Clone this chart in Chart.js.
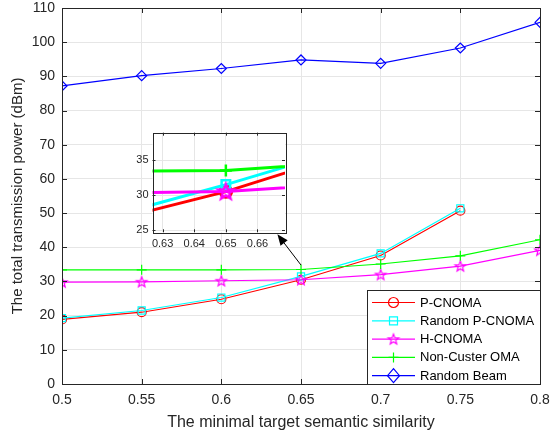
<!DOCTYPE html>
<html>
<head>
<meta charset="utf-8">
<script src="https://cdn.jsdelivr.net/npm/chart.js@4.4.1/dist/chart.umd.min.js"></script>
<style>
html, body { margin: 0; padding: 0; background: #fff; }
#wrap { position: relative; width: 550px; height: 436px; }
#main { position: absolute; left: 0; top: 0; }
#inset { position: absolute; left: 130px; top: 120px; }
</style>
</head>
<body>
<div id="wrap">
  <canvas id="main" width="550" height="436" style="width:550px;height:436px"></canvas>
  <canvas id="inset" width="165" height="135" style="width:165px;height:135px"></canvas>
</div>
<script>
// data
const similarity = [0.5, 0.55, 0.6, 0.65, 0.7, 0.75, 0.8];
const pCnoma = [18.9, 21.0, 24.8, 30.5, 37.6, 50.7, null];
const randomPCnoma = [19.3, 21.5, 25.3, 31.5, 38.2, 51.4, null];
const hCnoma = [29.8, 29.9, 30.2, 30.5, 32.0, 34.5, 39.1];
const nonClusterOma = [33.4, 33.4, 33.4, 33.5, 35.1, 37.5, 42.2];
const randomBeam = [87.2, 90.2, 92.3, 94.8, 93.8, 98.3, 105.8];

const xTicks = [0.5, 0.55, 0.6, 0.65, 0.7, 0.75, 0.8];
const yTicks = [0, 10, 20, 30, 40, 50, 60, 70, 80, 90, 100, 110];
const insetXTicks = [0.63, 0.64, 0.65, 0.66];
const insetYTicks = [25, 30, 35];

const FONT = '"Liberation Sans", Arial, Helvetica, sans-serif';
const TXT = '#262626';

// 5-point star marker (MATLAB 'p')
function makeStar(color, r, lw) {
    const c = document.createElement('canvas');
    const s = Math.ceil(2 * r + 2 * lw + 2);
    c.width = s; c.height = s;
    const g = c.getContext('2d');
    g.strokeStyle = color;
    g.lineWidth = lw;
    g.lineJoin = 'miter';
    g.beginPath();
    for (let i = 0; i < 10; i++) {
        const rr = i % 2 === 0 ? r : r * 0.42;
        const a = -Math.PI / 2 + i * Math.PI / 5;
        const px = s / 2 + rr * Math.cos(a), py = s / 2 + 0.5 + rr * Math.sin(a);
        if (i === 0) g.moveTo(px, py); else g.lineTo(px, py);
    }
    g.closePath();
    g.stroke();
    return c;
}
const starSmall = makeStar('#ff00ff', 5.5, 1.2);
const starBig = makeStar('#ff00ff', 8, 2.5);

const series = [
    { label: 'P-CNOMA', data: pCnoma, color: '#ff0000', marker: 'circle' },
    { label: 'Random P-CNOMA', data: randomPCnoma, color: '#00ffff', marker: 'rect' },
    { label: 'H-CNOMA', data: hCnoma, color: '#ff00ff', marker: 'star' },
    { label: 'Non-Custer OMA', data: nonClusterOma, color: '#00ff00', marker: 'cross' },
    { label: 'Random Beam', data: randomBeam, color: '#0000ff', marker: 'rectRot' }
];

function makeDatasets(big) {
    return series.map((s, i) => ({
        label: s.label,
        data: similarity.map((x, j) => ({ x: x, y: s.data[j] })).filter(p => p.y !== null),
        borderColor: s.color,
        backgroundColor: 'rgba(0,0,0,0)',
        borderWidth: big ? 3 : 1.2,
        pointStyle: s.marker === 'star' ? (big ? starBig : starSmall) : s.marker,
        pointRadius: big ? 6 : (s.marker === 'circle' ? 4.5 : 5),
        pointBorderWidth: big ? 2.5 : 1.2,
        pointBorderColor: s.color,
        pointBackgroundColor: 'rgba(0,0,0,0)',
        tension: 0,
        order: series.length - i
    }));
}

function fmt(v) { return String(Number(v.toFixed(2))); }

function drawMarker(ctx, s, x, y) {
    ctx.save();
    ctx.strokeStyle = s.color;
    ctx.lineWidth = 1.2;
    ctx.beginPath();
    if (s.marker === 'circle') {
        ctx.arc(x, y, 5, 0, Math.PI * 2);
    } else if (s.marker === 'rect') {
        ctx.rect(x - 4, y - 4, 8, 8);
    } else if (s.marker === 'cross') {
        ctx.moveTo(x - 5, y); ctx.lineTo(x + 5, y);
        ctx.moveTo(x, y - 5); ctx.lineTo(x, y + 5);
    } else if (s.marker === 'rectRot') {
        ctx.moveTo(x, y - 7); ctx.lineTo(x + 6, y); ctx.lineTo(x, y + 7); ctx.lineTo(x - 6, y); ctx.closePath();
    }
    ctx.stroke();
    if (s.marker === 'star') {
        ctx.drawImage(starSmall, x - starSmall.width / 2, y - starSmall.height / 2);
    }
    ctx.restore();
}

// no extra room for overflowing tick labels, keep the plot box where it is
function noOverflow(s) {
    s.paddingTop = 0; s.paddingBottom = 0; s.paddingLeft = 0; s.paddingRight = 0;
}

// axes box + inward ticks, like matlab
function boxPlugin(tickLen) {
    return {
        id: 'box',
        afterDraw(chart) {
            const { ctx, chartArea: a, scales } = chart;
            ctx.save();
            ctx.strokeStyle = TXT;
            ctx.lineWidth = 1;
            ctx.beginPath();
            scales.x.ticks.forEach(t => {
                const px = Math.round(scales.x.getPixelForValue(t.value)) + 0.5;
                ctx.moveTo(px, a.bottom); ctx.lineTo(px, a.bottom - tickLen);
                ctx.moveTo(px, a.top); ctx.lineTo(px, a.top + tickLen);
            });
            scales.y.ticks.forEach(t => {
                const py = Math.round(scales.y.getPixelForValue(t.value)) + 0.5;
                ctx.moveTo(a.left, py); ctx.lineTo(a.left + tickLen, py);
                ctx.moveTo(a.right, py); ctx.lineTo(a.right - tickLen, py);
            });
            ctx.stroke();
            ctx.strokeRect(Math.round(a.left) + 0.5, Math.round(a.top) + 0.5,
                Math.round(a.right - a.left), Math.round(a.bottom - a.top));
            ctx.restore();
        }
    };
}

const legendPlugin = {
    id: 'matLegend',
    afterDraw(chart) {
        const { ctx, chartArea: a } = chart;
        const bx = 367.5, by = 290.5, bw = Math.round(a.right) - 367, bh = Math.round(a.bottom) - 290;
        ctx.save();
        ctx.fillStyle = '#fff';
        ctx.fillRect(bx, by, bw, bh);
        ctx.strokeStyle = TXT;
        ctx.lineWidth = 1;
        ctx.strokeRect(bx, by, bw, bh);
        ctx.font = '13px ' + FONT;
        ctx.textBaseline = 'middle';
        series.forEach((s, i) => {
            const y = by + 12 + i * 18.3;
            ctx.strokeStyle = s.color;
            ctx.lineWidth = 1.2;
            ctx.beginPath();
            ctx.moveTo(372, y); ctx.lineTo(415, y);
            ctx.stroke();
            drawMarker(ctx, s, 393.5, y);
            ctx.fillStyle = '#000';
            ctx.fillText(s.label, 420, y + 0.5);
        });
        ctx.restore();
    }
};

const arrowPlugin = {
    id: 'arrow',
    afterDatasetsDraw(chart) {
        const { ctx, scales } = chart;
        const x0 = scales.x.getPixelForValue(0.65), y0 = scales.y.getPixelForValue(34.8);
        const x1 = scales.x.getPixelForValue(0.6352), y1 = scales.y.getPixelForValue(43.8);
        const ang = Math.atan2(y1 - y0, x1 - x0);
        const hl = 11, hw = 4.5;
        ctx.save();
        ctx.strokeStyle = '#000';
        ctx.fillStyle = '#000';
        ctx.lineWidth = 1;
        ctx.beginPath();
        ctx.moveTo(x0, y0);
        ctx.lineTo(x1 - hl * Math.cos(ang), y1 - hl * Math.sin(ang));
        ctx.stroke();
        ctx.beginPath();
        ctx.moveTo(x1, y1);
        ctx.lineTo(x1 - hl * Math.cos(ang) + hw * Math.sin(ang), y1 - hl * Math.sin(ang) - hw * Math.cos(ang));
        ctx.lineTo(x1 - hl * Math.cos(ang) - hw * Math.sin(ang), y1 - hl * Math.sin(ang) + hw * Math.cos(ang));
        ctx.closePath();
        ctx.fill();
        ctx.restore();
    }
};

new Chart(document.getElementById('main').getContext('2d'), {
    type: 'line',
    data: { datasets: makeDatasets(false) },
    options: {
        responsive: false,
        animation: false,
        layout: { padding: { top: 8, right: 10, left: 0, bottom: 0 } },
        plugins: { legend: { display: false }, tooltip: { enabled: false } },
        scales: {
            x: {
                type: 'linear', min: 0.5, max: 0.8,
                afterBuildTicks: s => { s.ticks = xTicks.map(v => ({ value: v })); },
                afterFit: s => { s.height = 52; noOverflow(s); },
                grid: { color: '#e6e6e6', drawTicks: false },
                border: { display: false },
                ticks: { color: TXT, font: { size: 14, family: FONT }, padding: 8, maxRotation: 0, callback: v => fmt(v) },
                title: { display: true, text: 'The minimal target semantic similarity', color: TXT,
                    font: { size: 16, family: FONT }, padding: { top: 0, bottom: 4 } }
            },
            y: {
                min: 0, max: 110,
                afterBuildTicks: s => { s.ticks = yTicks.map(v => ({ value: v })); },
                afterFit: s => { s.width = 62; noOverflow(s); },
                grid: { color: '#e6e6e6', drawTicks: false },
                border: { display: false },
                ticks: { color: TXT, font: { size: 14, family: FONT }, padding: 7 },
                title: { display: true, text: 'The total transmission power (dBm)', color: TXT,
                    font: { size: 15, family: FONT }, padding: { top: 9, bottom: 0 } }
            }
        }
    },
    plugins: [boxPlugin(5), arrowPlugin, legendPlugin]
});

// zoomed inset
const insetBg = {
    id: 'insetBg',
    beforeDraw(chart) {
        const { ctx, chartArea: a } = chart;
        ctx.save();
        ctx.fillStyle = '#fff';
        ctx.fillRect(a.left, a.top, a.right - a.left, a.bottom - a.top);
        ctx.restore();
    }
};

new Chart(document.getElementById('inset').getContext('2d'), {
    type: 'line',
    data: { datasets: makeDatasets(true) },
    options: {
        responsive: false,
        animation: false,
        layout: { padding: { top: 12.7, right: 10, left: 0, bottom: 0 } },
        plugins: { legend: { display: false }, tooltip: { enabled: false } },
        scales: {
            x: {
                type: 'linear', min: 0.6268, max: 0.6687,
                afterBuildTicks: s => { s.ticks = insetXTicks.map(v => ({ value: v })); },
                afterFit: s => { s.height = 22.7; noOverflow(s); },
                grid: { color: '#e6e6e6', drawTicks: false },
                border: { display: false },
                ticks: { color: TXT, font: { size: 11, family: FONT }, padding: 5, maxRotation: 0, callback: v => fmt(v) }
            },
            y: {
                min: 24.7, max: 38.9,
                afterBuildTicks: s => { s.ticks = insetYTicks.map(v => ({ value: v })); },
                afterFit: s => { s.width = 22.5; noOverflow(s); },
                grid: { color: '#e6e6e6', drawTicks: false },
                border: { display: false },
                ticks: { color: TXT, font: { size: 11, family: FONT }, padding: 4 }
            }
        }
    },
    plugins: [insetBg, boxPlugin(3)]
});
</script>
</body>
</html>
